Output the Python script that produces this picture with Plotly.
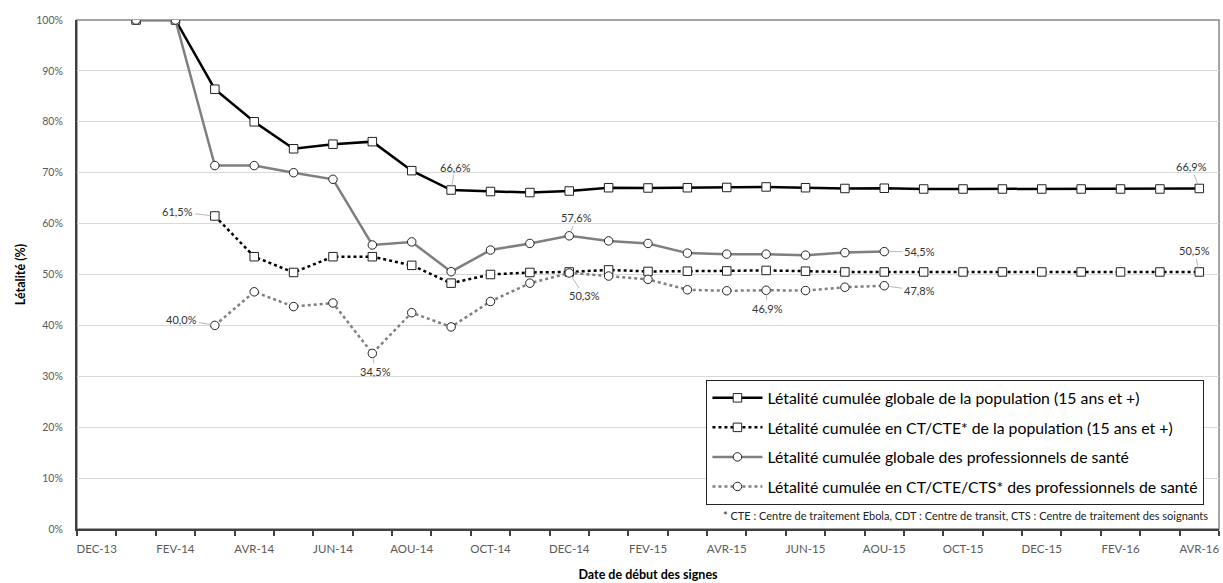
import plotly.graph_objects as go

months = ["DEC-13", "JAN-14", "FEV-14", "MAR-14", "AVR-14", "MAI-14", "JUN-14", "JUL-14",
          "AOU-14", "SEP-14", "OCT-14", "NOV-14", "DEC-14", "JAN-15", "FEV-15", "MAR-15",
          "AVR-15", "MAI-15", "JUN-15", "JUL-15", "AOU-15", "SEP-15", "OCT-15", "NOV-15",
          "DEC-15", "JAN-16", "FEV-16", "MAR-16", "AVR-16"]

pop_global = [None, 100, 100, 86.4, 80.0, 74.7, 75.6, 76.1, 70.4, 66.6, 66.3, 66.1, 66.4,
              67.05, 67.0, 67.05, 67.1, 67.2, 67.05, 66.9, 66.95, 66.8, 66.8, 66.8, 66.8,
              66.8, 66.8, 66.8, 66.9]
pop_ct = [None, None, None, 61.5, 53.5, 50.4, 53.5, 53.5, 51.8, 48.3, 50.0, 50.4, 50.5,
          50.9, 50.6, 50.65, 50.7, 50.8, 50.65, 50.5, 50.5, 50.5, 50.5, 50.5, 50.5,
          50.5, 50.5, 50.5, 50.5]
pro_global = [None, 100, 100, 71.4, 71.4, 70.0, 68.7, 55.8, 56.4, 50.55, 54.8, 56.1, 57.6,
              56.6, 56.1, 54.2, 54.0, 54.0, 53.8, 54.3, 54.5] + [None] * 8
pro_ct = [None, None, None, 40.0, 46.6, 43.7, 44.4, 34.5, 42.5, 39.7, 44.7, 48.3, 50.3,
          49.7, 49.05, 47.0, 46.8, 46.9, 46.85, 47.5, 47.8] + [None] * 8

legend_names = [
    "Létalité cumulée globale de la population (15 ans et +)",
    "Létalité cumulée en CT/CTE* de la population (15 ans et +)",
    "Létalité cumulée globale des professionnels de santé",
    "Létalité cumulée en CT/CTE/CTS* des professionnels de santé",
]
footnote = "* CTE : Centre de traitement Ebola, CDT : Centre de transit, CTS : Centre de traitement des soignants"

# labelled points: (series, month, text, ax, ay)
labels = [
    ("pop_ct", "MAR-14", "61,5%", -37, -4),
    ("pro_ct", "MAR-14", "40,0%", -33, -6),
    ("pro_ct", "JUL-14", "34,5%", 3, 18),
    ("pop_global", "SEP-14", "66,6%", 4, -23),
    ("pro_global", "DEC-14", "57,6%", 7, -18),
    ("pro_ct", "DEC-14", "50,3%", 15, 23),
    ("pro_ct", "MAI-15", "46,9%", 1, 18),
    ("pro_global", "AOU-15", "54,5%", 35, 0),
    ("pro_ct", "AOU-15", "47,8%", 35, 5),
    ("pop_global", "AVR-16", "66,9%", -8, -22),
    ("pop_ct", "AVR-16", "50,5%", -5, -21),
]

series = {"pop_global": pop_global, "pop_ct": pop_ct, "pro_global": pro_global, "pro_ct": pro_ct}
xs = list(range(len(months)))

FONT = "Lato, 'Open Sans', sans-serif"
fig = go.Figure()

styles = [
    ("pop_global", dict(color="black", width=2.5, dash="solid"), "square"),
    ("pop_ct", dict(color="black", width=2.5, dash="dot"), "square"),
    ("pro_global", dict(color="#7f7f7f", width=2.5, dash="solid"), "circle"),
    ("pro_ct", dict(color="#7f7f7f", width=2.5, dash="dot"), "circle"),
]
for (key, line, sym), name in zip(styles, legend_names):
    fig.add_trace(go.Scatter(
        x=xs, y=series[key], mode="lines+markers", name=name, line=line,
        legendgroup=key,
        connectgaps=False,
        marker=dict(symbol=sym, size=8.5, color="white", line=dict(color="#222222", width=1)),
    ))

for key, m, txt, ax, ay in labels:
    i = months.index(m)
    fig.add_annotation(x=i, y=series[key][i], text=txt, showarrow=True, arrowhead=0,
                       arrowwidth=0.8, arrowcolor="#a6a6a6", ax=ax, ay=ay, standoff=4,
                       font=dict(family=FONT, size=11, color="#333333"))

fig.add_annotation(xref="paper", yref="paper", x=0.9925, y=0.027, xanchor="right", yanchor="middle",
                   text=footnote, showarrow=False, font=dict(family=FONT, size=11, color="#222222"))

fig.add_shape(type="rect", xref="paper", yref="paper", x0=0, x1=1, y0=0, y1=1,
              line=dict(color="#868686", width=1.5), layer="below")

fig.update_layout(
    width=1223, height=583,
    margin=dict(l=77, r=4, t=20, b=54, autoexpand=False),
    paper_bgcolor="white", plot_bgcolor="white",
    font=dict(family=FONT, color="#595959"),
    showlegend=True,
    legend=dict(x=0.551, y=0.293, xanchor="left", yanchor="top",
                bordercolor="#222222", borderwidth=1.2, bgcolor="white",
                font=dict(family=FONT, size=15.8, color="black"),
                tracegroupgap=6, traceorder="grouped", itemwidth=50),
    xaxis=dict(range=[-0.5, len(months) - 0.5], tickmode="array",
               tickvals=xs[::2], ticktext=months[::2], ticks="", showgrid=False,
               zeroline=False, showline=True, linecolor="#404040", linewidth=2,
               ticklabelstandoff=8,
               tickfont=dict(family=FONT, size=11.5, color="#595959"),
               minor=dict(tick0=-0.5, dtick=1, ticks="outside", ticklen=5,
                          tickcolor="#404040", tickwidth=1.5, showgrid=False),
               title=dict(text="<b>Date de début des signes</b>", standoff=16,
                          font=dict(family=FONT, size=12.5, color="black"))),
    yaxis=dict(range=[0, 100], dtick=10, ticksuffix="%", showgrid=True,
               gridcolor="#d9d9d9", gridwidth=1, zeroline=False, showline=True,
               linecolor="#404040", linewidth=2, ticks="", ticklabelstandoff=10,
               tickfont=dict(family=FONT, size=10.5, color="#595959"),
               title=dict(text="<b>Létalité (%)</b>", standoff=8,
                          font=dict(family=FONT, size=12.5, color="black"))),
)

fig.write_html("out.html", config={"displayModeBar": False},
               post_script="document.body.style.margin='0';")
